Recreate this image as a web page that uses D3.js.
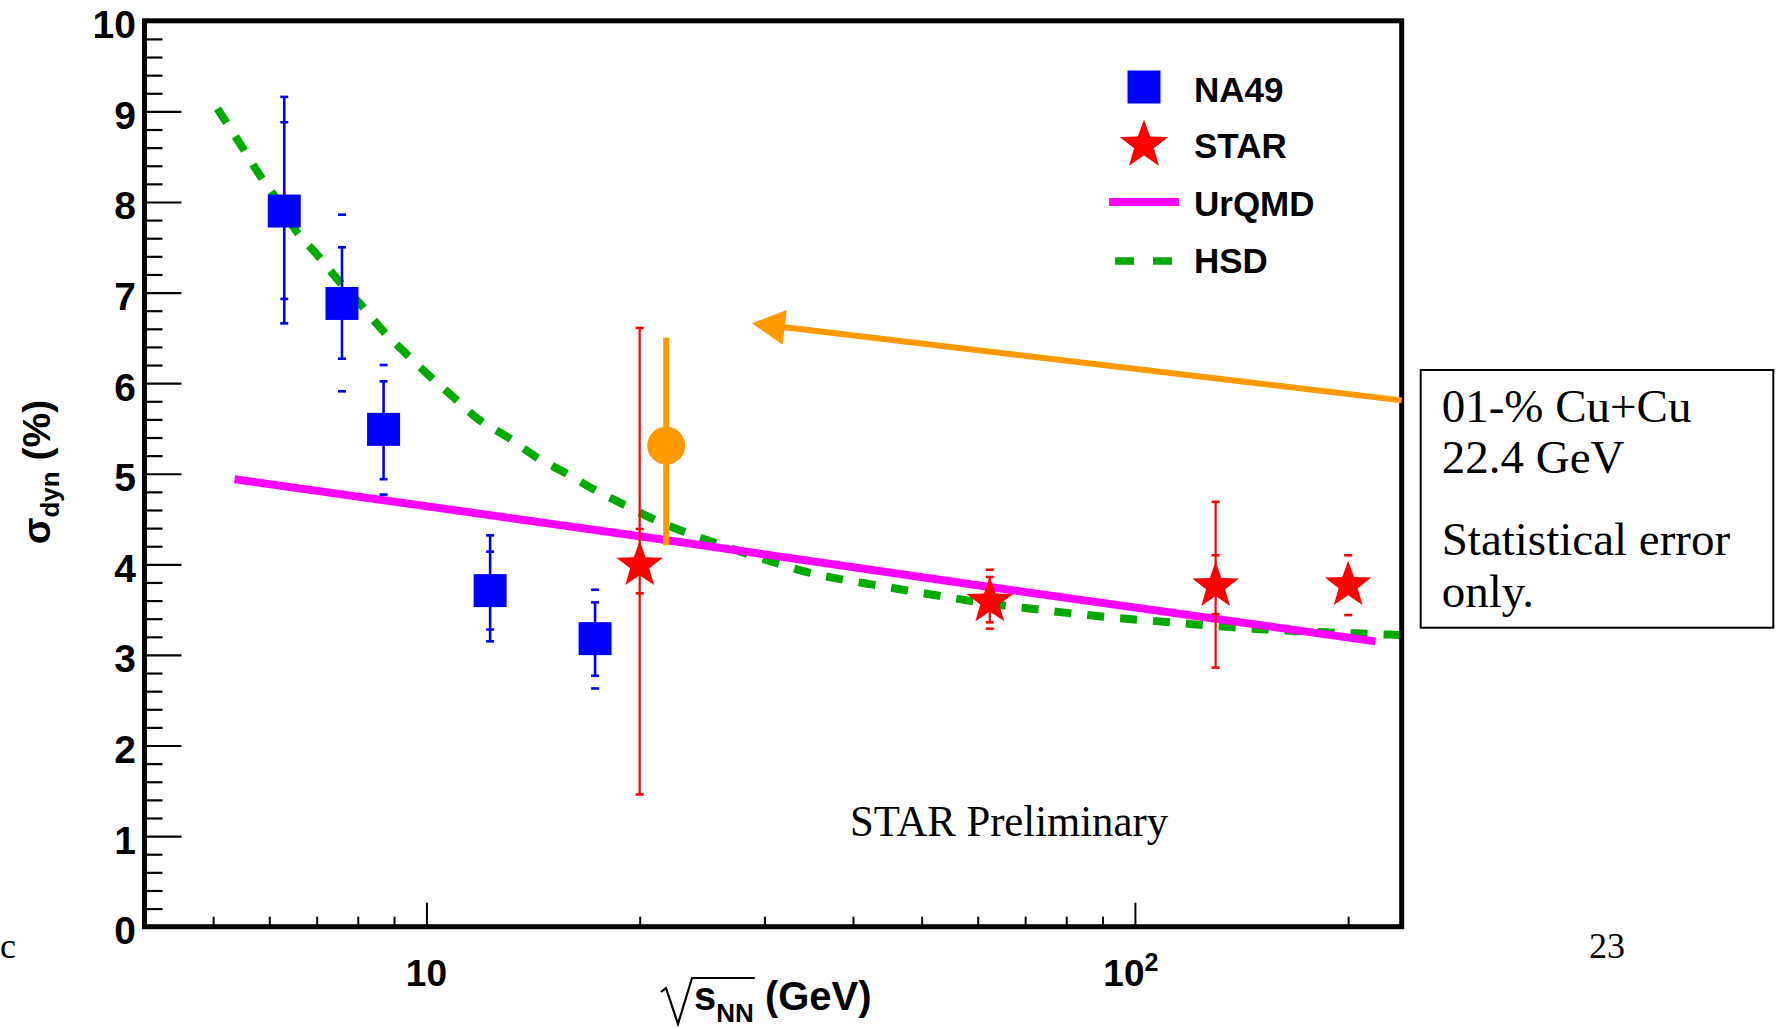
<!DOCTYPE html>
<html><head><meta charset="utf-8">
<script src="https://cdn.jsdelivr.net/npm/d3@7"></script>
<style>html,body{margin:0;padding:0;background:#fff;} svg{display:block;}</style>
</head><body>
<script>
// ---------------- data ----------------
const na49Energy = [6.3, 7.6, 8.7, 12.3, 17.3];
const na49Sigma  = [7.90, 6.88, 5.49, 3.71, 3.18];
const na49ErrLo  = [6.66, 6.27, 4.94, 3.15, 2.77];
const na49ErrHi  = [9.16, 7.50, 6.02, 4.32, 3.58];
const na49SysLo  = [6.93, 5.91, 4.77, 3.28, 2.63];
const na49SysHi  = [8.88, 7.86, 6.20, 4.14, 3.72];

const starEnergy = [20.0, 62.4, 130, 200];
const starSigma  = [3.99, 3.59, 3.76, 3.77];
const starErrLo  = [1.46, 3.36, 2.86, 3.68];
const starErrHi  = [6.61, 3.86, 4.69, 3.86];
const starSysLo  = [3.68, 3.29, 3.45, 3.44];
const starSysHi  = [4.39, 3.94, 4.10, 4.10];

const cucuEnergy = [21.8];
const cucuSigma  = [5.31];
const cucuErrLo  = [4.21];
const cucuErrHi  = [6.50];

const urqmdEnergy = [5.36, 20, 62.4, 218.5];
const urqmdSigma  = [4.94, 4.31, 3.75, 3.15];

const hsdEnergy = [5.07, 5.46, 5.78, 6.16, 6.55, 6.99, 7.52, 8.16, 8.61, 9.29, 10.0, 10.9, 11.8, 13.1, 14.25, 15.7, 17.2, 19.0, 20.9, 23.1, 25.7, 31.3, 34.6, 38.8, 43.1, 47.8, 53.2, 59.2, 73.2, 90.7, 112.5, 139.8, 173.4, 219, 236];
const hsdSigma  = [9.03, 8.64, 8.33, 8.02, 7.68, 7.43, 7.13, 6.83, 6.61, 6.35, 6.11, 5.85, 5.61, 5.39, 5.19, 5.01, 4.83, 4.66, 4.50, 4.36, 4.23, 4.01, 3.91, 3.83, 3.77, 3.71, 3.65, 3.59, 3.50, 3.42, 3.36, 3.30, 3.26, 3.23, 3.22];

const arrowEnergy = [238, 28.8];
const arrowSigma  = [5.81, 6.66];

const yMajorTicks = [0,1,2,3,4,5,6,7,8,9,10];
const xMajorTicks = [10, 100];
const xMinorTicks = [5,6,7,8,9,20,30,40,50,60,70,80,90,200];
const xTickLabels = ["10", "10"];
const xTickSup    = ["", "2"];
const legendLabels = ["NA49", "STAR", "UrQMD", "HSD"];
const boxLines = ["01-% Cu+Cu", "22.4 GeV", "Statistical error", "only."];

// ---------------- setup ----------------
const W = 1780, H = 1029;
const SANS = "'Liberation Sans', Arial, Helvetica, sans-serif";
const SERIF = "'Liberation Serif', 'Times New Roman', serif";
const BLUE = "#0000ff", RED = "#ff0000", MAG = "#ff00ff", GREEN = "#00aa00", ORANGE = "#ff9900";

const svg = d3.select("body").append("svg").attr("width", W).attr("height", H);
svg.append("rect").attr("width", W).attr("height", H).attr("fill", "#fff");

const x = d3.scaleLog().domain([4, 238]).range([144.5, 1401.7]);
const y = d3.scaleLinear().domain([0, 10]).range([926.7, 20.8]);
const [x0, x1] = x.range(), [y0, y1] = y.range();

// ---------------- axes ----------------
const yMinor = d3.range(0, 10.001, 0.2).map(v => +v.toFixed(1)).filter(v => !yMajorTicks.includes(v));
const gyMin = svg.append("g").attr("transform", `translate(${x0},0)`)
  .call(d3.axisLeft(y).tickValues(yMinor).tickSize(-18).tickFormat(""));
const gy = svg.append("g").attr("transform", `translate(${x0},0)`)
  .call(d3.axisLeft(y).tickValues(yMajorTicks).tickSize(-37).tickPadding(8).tickFormat(d3.format("d")));
[gyMin, gy].forEach(g => { g.select(".domain").remove(); g.selectAll("line").attr("stroke", "#000").attr("stroke-width", 2.2); });
gy.selectAll("text").attr("font-family", SANS).attr("font-weight", "bold").attr("font-size", 39)
  .attr("fill", "#000").attr("dy", null).attr("y", 17).attr("x", -8.5);

const gxMin = svg.append("g").attr("transform", `translate(0,${y0})`)
  .call(d3.axisBottom(x).tickValues(xMinorTicks).tickSize(-10).tickFormat(""));
const gx = svg.append("g").attr("transform", `translate(0,${y0})`)
  .call(d3.axisBottom(x).tickValues(xMajorTicks).tickSize(-24).tickFormat(""));
[gxMin, gx].forEach(g => { g.select(".domain").remove(); g.selectAll("line").attr("stroke", "#000").attr("stroke-width", 2); });
gx.selectAll("text").remove();
xMajorTicks.forEach((v, i) => {
  const t = svg.append("text").attr("x", x(v) - (xTickSup[i] ? 4 : 0)).attr("y", 986)
    .attr("text-anchor", "middle").attr("font-family", SANS).attr("font-weight", "bold")
    .attr("font-size", 37).attr("fill", "#000");
  t.append("tspan").text(xTickLabels[i]);
  if (xTickSup[i]) t.append("tspan").attr("font-size", 25).attr("dy", -15).text(xTickSup[i]);
});

// frame
svg.append("rect").attr("x", x0).attr("y", y1).attr("width", x1 - x0).attr("height", y0 - y1)
  .attr("fill", "none").attr("stroke", "#000").attr("stroke-width", 5);

// axis titles
const ty = svg.append("text").attr("transform", "translate(50,472) rotate(-90)")
  .attr("text-anchor", "middle").attr("font-family", SANS).attr("font-weight", "bold")
  .attr("font-size", 39).attr("fill", "#000");
ty.append("tspan").text("σ");
ty.append("tspan").attr("font-size", 26).attr("dy", 9).text("dyn");
ty.append("tspan").attr("dy", -9).text(" (%)");

const tx = svg.append("text").attr("x", 694).attr("y", 1010)
  .attr("font-family", SANS).attr("font-weight", "bold").attr("font-size", 40).attr("fill", "#000");
tx.append("tspan").text("s");
tx.append("tspan").attr("font-size", 26).attr("dy", 12).text("NN");
tx.append("tspan").attr("dy", -12).text(" (GeV)");
// radical sign sized from the rendered "s"+"NN" text
{
  const sLen = tx.node().getSubStringLength(0, 3);
  const xs = 694, xe = xs + sLen + 1;
  svg.append("path").attr("d", `M${xs-33},${992} L${xs-28},${988} L${xs-16},${1024} L${xs-2},${978} L${xe},${978}`)
    .attr("fill", "none").attr("stroke", "#000").attr("stroke-width", 2.2);
}

// ---------------- curves ----------------
const line = d3.line().x(d => x(d[0])).y(d => y(d[1]));
svg.append("path").datum(d3.zip(hsdEnergy, hsdSigma))
  .attr("d", line.curve(d3.curveMonotoneX)).attr("fill", "none")
  .attr("stroke", GREEN).attr("stroke-width", 8).attr("stroke-dasharray", "17 16");
svg.append("path").datum(d3.zip(urqmdEnergy, urqmdSigma))
  .attr("d", d3.line().x(d => x(d[0])).y(d => y(d[1]))).attr("fill", "none")
  .attr("stroke", MAG).attr("stroke-width", 8);

// ---------------- error bars & markers ----------------
function errBars(energy, lo, hi, slo, shi, color, lw) {
  const g = svg.append("g").attr("stroke", color);
  energy.forEach((e, i) => {
    const cx = x(e);
    g.append("line").attr("x1", cx).attr("x2", cx).attr("y1", y(lo[i])).attr("y2", y(hi[i])).attr("stroke-width", lw);
    [lo[i], hi[i], slo[i], shi[i]].forEach(v => {
      g.append("line").attr("x1", cx - 4).attr("x2", cx + 4).attr("y1", y(v)).attr("y2", y(v)).attr("stroke-width", 2.6);
    });
  });
}
errBars(na49Energy, na49ErrLo, na49ErrHi, na49SysLo, na49SysHi, BLUE, 2.6);
errBars(starEnergy, starErrLo, starErrHi, starSysLo, starSysHi, RED, 2.2);

function starPath(R, r) {
  const pts = d3.range(10).map(i => {
    const a = -Math.PI / 2 + i * Math.PI / 5, rr = i % 2 ? r : R;
    return [rr * Math.cos(a), rr * Math.sin(a)];
  });
  return "M" + pts.map(p => p.join(",")).join("L") + "Z";
}
const SQ = 33;
svg.append("g").selectAll("rect").data(d3.zip(na49Energy, na49Sigma)).join("rect")
  .attr("x", d => x(d[0]) - SQ / 2).attr("y", d => y(d[1]) - SQ / 2)
  .attr("width", SQ).attr("height", SQ).attr("fill", BLUE);
svg.append("g").selectAll("path").data(d3.zip(starEnergy, starSigma)).join("path")
  .attr("transform", d => `translate(${x(d[0])},${y(d[1])})`)
  .attr("d", starPath(24.5, 10)).attr("fill", RED);

// Cu+Cu overlay point
cucuEnergy.forEach((e, i) => {
  svg.append("line").attr("x1", x(e)).attr("x2", x(e)).attr("y1", y(cucuErrLo[i])).attr("y2", y(cucuErrHi[i]))
    .attr("stroke", ORANGE).attr("stroke-width", 6);
  svg.append("circle").attr("cx", x(e)).attr("cy", y(cucuSigma[i])).attr("r", 19).attr("fill", ORANGE);
});

// arrow
{
  const ax0 = x(arrowEnergy[0]), ay0 = y(arrowSigma[0]), ax1 = x(arrowEnergy[1]), ay1 = y(arrowSigma[1]);
  const dx = ax0 - ax1, dy = ay0 - ay1, L = Math.hypot(dx, dy), ux = dx / L, uy = dy / L;
  const hl = 33, hw = 17.5;
  const bx = ax1 + ux * hl, by = ay1 + uy * hl;
  svg.append("line").attr("x1", ax0).attr("y1", ay0).attr("x2", bx - ux * 2).attr("y2", by - uy * 2)
    .attr("stroke", ORANGE).attr("stroke-width", 6);
  svg.append("path").attr("d", `M${ax1},${ay1} L${bx - uy * hw},${by + ux * hw} L${bx + uy * hw},${by - ux * hw} Z`)
    .attr("fill", ORANGE);
}

// ---------------- legend ----------------
const lgX = 1144, lgTextX = 1194;
const lgRows = [87, 145, 202, 261];
const lgBase = [101.5, 158, 215.5, 273];
svg.append("rect").attr("x", lgX - SQ / 2).attr("y", lgRows[0] - SQ / 2).attr("width", SQ).attr("height", SQ).attr("fill", BLUE);
svg.append("path").attr("transform", `translate(${lgX},${lgRows[1]})`).attr("d", starPath(25.5, 10.4)).attr("fill", RED);
svg.append("line").attr("x1", lgX - 35).attr("x2", lgX + 35).attr("y1", lgRows[2]).attr("y2", lgRows[2])
  .attr("stroke", MAG).attr("stroke-width", 8);
svg.append("line").attr("x1", lgX - 29).attr("x2", lgX + 29).attr("y1", lgRows[3]).attr("y2", lgRows[3])
  .attr("stroke", GREEN).attr("stroke-width", 7.5).attr("stroke-dasharray", "19 19");
legendLabels.forEach((t, i) => {
  svg.append("text").attr("x", lgTextX).attr("y", lgBase[i]).attr("font-family", SANS).attr("font-weight", "bold")
    .attr("font-size", 35).attr("fill", "#000").text(t);
});

// ---------------- annotations ----------------
svg.append("text").attr("x", 850).attr("y", 836).attr("font-family", SERIF).attr("font-size", 44)
  .attr("textLength", 318).attr("lengthAdjust", "spacingAndGlyphs").attr("fill", "#000").text("STAR Preliminary");

svg.append("rect").attr("x", 1420.7).attr("y", 370).attr("width", 352.6).attr("height", 257.7)
  .attr("fill", "#fff").attr("stroke", "#000").attr("stroke-width", 2);
const boxBase = [421.7, 473.3, 555, 606.7];
boxLines.forEach((t, i) => {
  svg.append("text").attr("x", 1441.7).attr("y", boxBase[i]).attr("font-family", SERIF)
    .attr("font-size", 47).attr("fill", "#000").text(t);
});

svg.append("text").attr("x", 0).attr("y", 958).attr("font-family", SERIF).attr("font-size", 36).attr("fill", "#000").text("c");
svg.append("text").attr("x", 1589).attr("y", 958).attr("font-family", SERIF).attr("font-size", 36).attr("fill", "#000").text("23");
</script>
</body></html>
